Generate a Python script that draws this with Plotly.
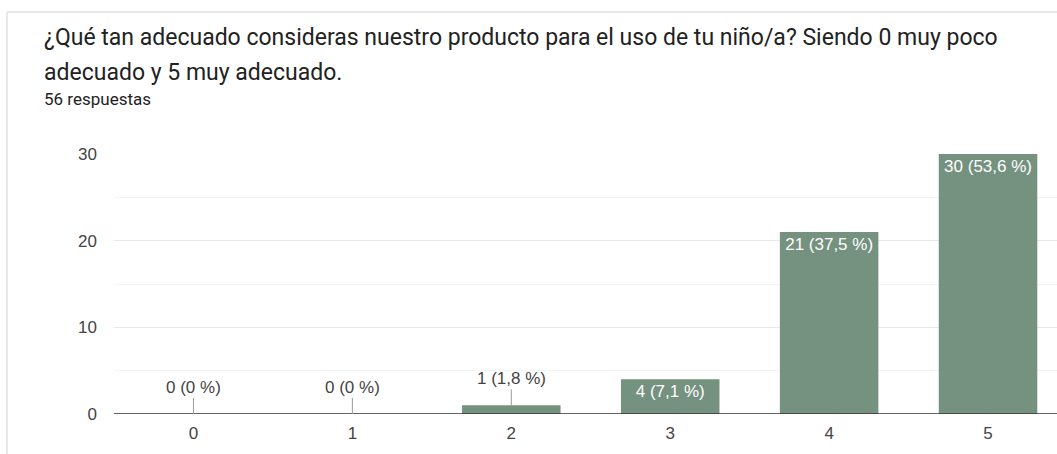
import plotly.graph_objects as go

# Survey results
categories = ["0", "1", "2", "3", "4", "5"]
counts = [0, 0, 1, 4, 21, 30]
total = 56
question_lines = [
    "¿Qué tan adecuado consideras nuestro producto para el uso de tu niño/a? Siendo 0 muy poco",
    "adecuado y 5 muy adecuado.",
]
subtitle = f"{total} respuestas"
y_ticks = [0, 10, 20, 30]

BAR_COLOR = "#75917f"
TEXT_COLOR = "#444444"
CHART_FONT = "Liberation Sans, Arial, sans-serif"
HEAD_FONT = "Roboto, sans-serif"

W, H = 1057, 454
ML, MR, MT, MB = 114, 0, 154, 40
PW, PH = W - ML - MR, H - MT - MB


def px_x(p):
    return (p - ML) / PW


def px_y(p):
    return (H - MB - p) / PH


def fmt_pct(v):
    s = f"{100 * v / total:.1f}".replace(".", ",")
    if s.endswith(",0"):
        s = s[:-2]
    return f"{v} ({s} %)"


labels = [fmt_pct(v) for v in counts]
inside = [v >= 3 for v in counts]

fig = go.Figure(
    go.Bar(
        x=categories,
        y=counts,
        marker=dict(color=BAR_COLOR, line=dict(width=0)),
        text=[lab if ok else "" for lab, ok in zip(labels, inside)],
        textposition="inside",
        insidetextanchor="end",
        textangle=0,
        textfont=dict(color="white", size=17, family=CHART_FONT),
        hoverinfo="skip",
    )
)

annotations = []
# small bars: label above with a leader line
for cat, v, lab, ok in zip(categories, counts, labels, inside):
    if not ok:
        annotations.append(dict(
            x=cat, y=v, xref="x", yref="y", text=lab,
            showarrow=True, arrowhead=0, arrowwidth=1, arrowcolor="#999999",
            ax=0, ay=-27, standoff=0,
            font=dict(size=17, color=TEXT_COLOR, family=CHART_FONT),
        ))

# question header, one annotation per line
for line, yc in zip(question_lines, [37, 72]):
    annotations.append(dict(
        x=px_x(42), y=px_y(yc), xref="paper", yref="paper",
        xanchor="left", yanchor="middle", align="left", showarrow=False,
        text=line,
        font=dict(size=23, color="#222222", family=HEAD_FONT),
    ))
annotations.append(dict(
    x=px_x(42), y=px_y(99), xref="paper", yref="paper",
    xanchor="left", yanchor="middle", align="left", showarrow=False,
    text=subtitle,
    font=dict(size=17, color="#222222", family=HEAD_FONT),
))

# card outline
shapes = [
    dict(type="line", xref="paper", yref="paper",
         x0=px_x(7), x1=px_x(W + 5), y0=px_y(12), y1=px_y(12),
         line=dict(color="#e8e8e8", width=2)),
    dict(type="line", xref="paper", yref="paper",
         x0=px_x(7), x1=px_x(7), y0=px_y(12), y1=px_y(H + 5),
         line=dict(color="#e8e8e8", width=2)),
    # baseline
    dict(type="line", xref="paper", yref="y",
         x0=0, x1=1, y0=0, y1=0,
         line=dict(color="#333333", width=1.5), layer="above"),
]

fig.update_layout(
    width=W, height=H,
    margin=dict(l=ML, r=MR, t=MT, b=MB),
    paper_bgcolor="white", plot_bgcolor="white",
    showlegend=False,
    bargap=0.38,
    annotations=annotations,
    shapes=shapes,
    font=dict(family=CHART_FONT, color=TEXT_COLOR),
    xaxis=dict(
        type="category",
        range=[-0.5, 5.5 - 10.5 / 159],
        showgrid=False, zeroline=False, showline=False,
        ticks="", tickfont=dict(size=17, color=TEXT_COLOR),
        ticklabelstandoff=7,
        fixedrange=True,
    ),
    yaxis=dict(
        range=[0, 30],
        tickvals=y_ticks,
        showgrid=True, gridcolor="#e8e8e8", gridwidth=1,
        minor=dict(dtick=5, showgrid=True, gridcolor="#f4f4f4", gridwidth=1),
        zeroline=False, showline=False,
        ticks="", tickfont=dict(size=17, color=TEXT_COLOR),
        ticklabelstandoff=16,
        fixedrange=True,
    ),
)

fig.write_html("out.html", config={"displayModeBar": False})
